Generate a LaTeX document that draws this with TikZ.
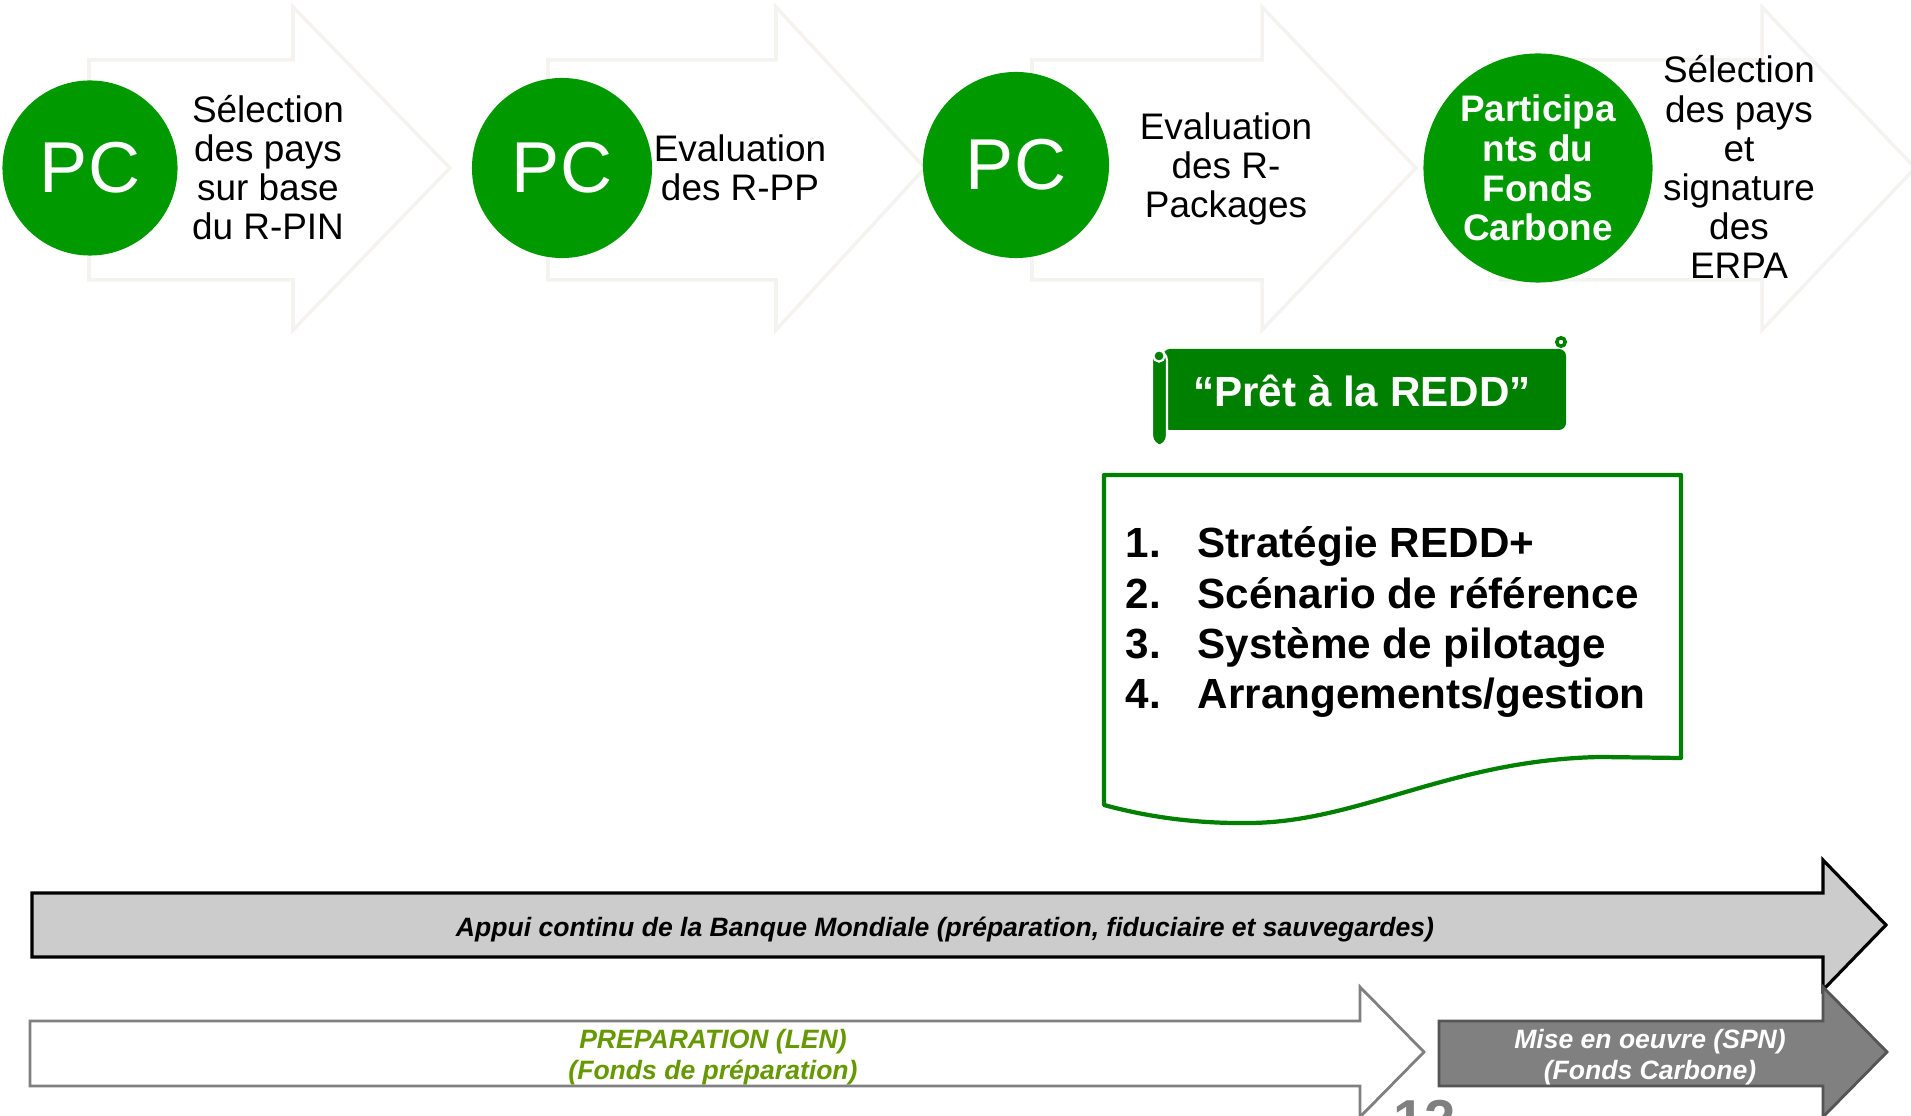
\documentclass[tikz,border=0pt]{standalone}
\usepackage{fontspec}
\setmainfont{Liberation Sans}

\definecolor{pcgreen}{RGB}{0,153,0}
\definecolor{scrollgreen}{RGB}{0,128,0}
\definecolor{prepgreen}{RGB}{102,153,0}
\definecolor{faintline}{RGB}{245,243,239}
\definecolor{lightbar}{RGB}{204,204,204}
\definecolor{darkbar}{RGB}{128,128,128}
\definecolor{darkedge}{RGB}{85,85,85}

\tikzstyle{bgarrow}=[draw=faintline, fill=white, line width=1pt]
\tikzstyle{pc}=[circle, fill=pcgreen, text=white, inner sep=0pt, font=\fontsize{20.5}{22}\selectfont]
\tikzstyle{stagetext}=[align=center, inner sep=0pt, font=\fontsize{10.5}{11.1}\selectfont]
\tikzstyle{scrolltext}=[text=white, inner sep=0pt, font=\bfseries\fontsize{12}{14}\selectfont]
\tikzstyle{docline}=[draw=scrollgreen, line width=1.2pt, line join=round]
\tikzstyle{listtext}=[anchor=base west, inner sep=0pt, font=\bfseries\fontsize{12}{14}\selectfont]
\tikzstyle{bartext}=[inner sep=0pt, font=\bfseries\itshape\fontsize{7.55}{8.8}\selectfont]
\tikzstyle{appuiarrow}=[draw=black, fill=lightbar, line width=0.9pt]
\tikzstyle{preparrow}=[draw=darkbar, fill=white, line width=0.8pt]
\tikzstyle{spnarrow}=[draw=darkedge, fill=darkbar, line width=0.8pt]

\begin{document}
\begin{tikzpicture}[x=0.01cm,y=-0.01cm]
\useasboundingbox (0,0) rectangle (1911,1116);

% TOP ARROWS

\foreach \bx/\hx/\tx in {89/293/450,548/776/925,1032/1262/1416,1500/1762/1915}{
  \draw[bgarrow] (\bx,60) -- (\hx,60) -- (\hx,7) -- (\tx,168) -- (\hx,330) -- (\hx,280) -- (\bx,280) -- cycle;
}

% PC CIRCLES

\node[pc, minimum size=1.75cm] (pc1) at (90,168) {PC};
\node[pc, minimum size=1.8cm] (pc2) at (562,168) {PC};
\node[pc, minimum size=1.86cm] (pc3) at (1016,165) {PC};
\node[pc, minimum size=2.29cm, align=center, font=\bfseries\fontsize{10.5}{11.3}\selectfont] (pc4) at (1538,168) {Participa\\nts du\\Fonds\\Carbone};

\node[stagetext] (sel1) at (268,168) {Sélection\\des pays\\sur base\\du R-PIN};
\node[stagetext] (eval1) at (740,168) {Evaluation\\des R-PP};
\node[stagetext] (eval2) at (1226,169) {Evaluation\\des R-\\Packages};
\node[stagetext] (sel2) at (1739,167) {Sélection\\des pays\\et\\signature\\des\\ERPA};

% SCROLL

\fill[scrollgreen, rounded corners=2pt] (1163,349) rectangle (1566,430);
\draw[white, line width=0.6pt, fill=scrollgreen, rounded corners=3pt] (1152,350) rectangle (1167,446);
\draw[white, line width=0.6pt, fill=scrollgreen] (1159,356) circle (1.6pt);
\draw[scrollgreen, line width=1pt, fill=white] (1561,342) circle (1.2pt);
\node[scrolltext, anchor=base] (redd) at (1362,407) {“Prêt à la REDD”};

% DOCUMENT

\draw[docline] (1104,475) -- (1681,475) -- (1681,758) -- (1600,757) .. controls (1450,760) and (1360,822) .. (1250,823) .. controls (1180,824) and (1130,812) .. (1104,805) -- cycle;
\foreach \n/\txt in {1/Stratégie REDD+,2/Scénario de référence,3/Système de pilotage,4/{Arrangements/gestion}}{
  \node[listtext] (num\n) at (1125,{558+50.3*(\n-1)}) {\n.};
  \node[listtext] (item\n) at (1197,{558+50.3*(\n-1)}) {\txt};
}

% BOTTOM ARROWS

\draw[appuiarrow] (32,893) -- (1823,893) -- (1823,860) -- (1886,925) -- (1823,990) -- (1823,957) -- (32,957) -- cycle;
\node[bartext] (appui) at (945,930) {Appui continu de la Banque Mondiale (préparation, fiduciaire et sauvegardes)};

\draw[preparrow] (30,1021) -- (1360,1021) -- (1360,987) -- (1424,1052) -- (1360,1117) -- (1360,1086) -- (30,1086) -- cycle;
\node[bartext, text=prepgreen, align=center] (prep) at (713,1057) {PREPARATION (LEN)\\(Fonds de préparation)};

\draw[spnarrow] (1439,1021) -- (1823,1021) -- (1823,987) -- (1887,1052) -- (1823,1117) -- (1823,1086) -- (1439,1086) -- cycle;
\node[bartext, text=white, align=center] (spn) at (1650,1057) {Mise en oeuvre (SPN)\\(Fonds Carbone)};

\node[anchor=north west, inner sep=0pt, text=darkbar, font=\bfseries\fontsize{16}{16}\selectfont] (slideno) at (1393,1100) {12};

\end{tikzpicture}
\end{document}
